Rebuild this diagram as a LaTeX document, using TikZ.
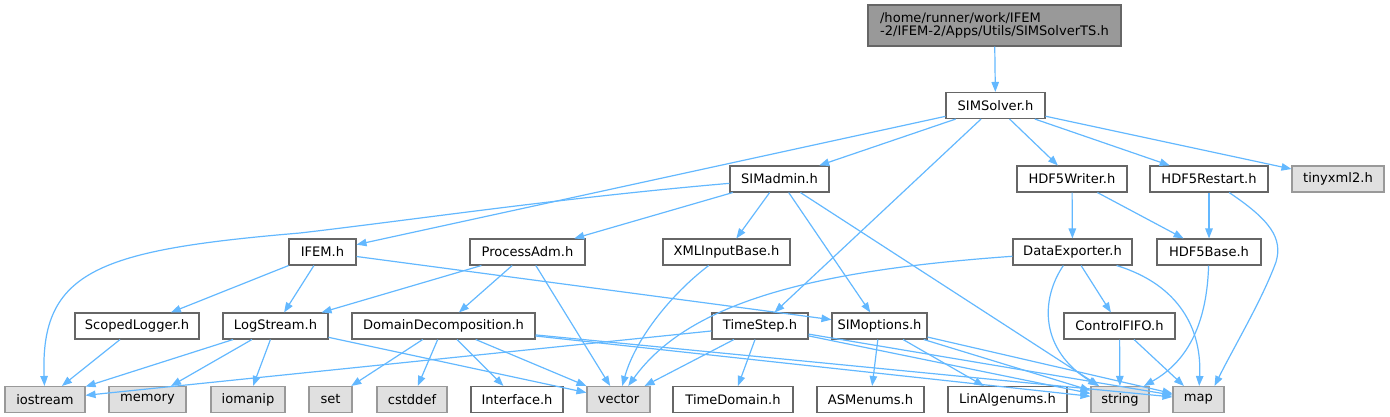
\documentclass[tikz,border=0pt]{standalone}
\usepackage{fontspec}
\setmainfont{DejaVu Sans}
\definecolor{edgeblue}{RGB}{99, 184, 255}
\definecolor{boxline}{RGB}{102, 102, 102}
\definecolor{extline}{RGB}{153, 153, 153}
\definecolor{extfill}{RGB}{224, 224, 224}
\definecolor{rootfill}{RGB}{153, 153, 153}
\usepackage{tikz}
\usetikzlibrary{arrows.meta, positioning, calc}

\begin{document}
\begin{tikzpicture}[
  x=0.75pt, y=-0.75pt,
  hdr/.style={draw=boxline, fill=white, line width=0.8pt, minimum width=#1*0.75pt, minimum height=19.5pt, inner sep=1pt, font=\fontsize{9.8pt}{11pt}\selectfont},
  ext/.style={hdr=#1, draw=extline, fill=extfill},
  rootbox/.style={draw=boxline, fill=rootfill, line width=0.8pt, minimum width=253*0.75pt, minimum height=41*0.75pt, inner sep=1pt, align=left, font=\fontsize{9.8pt}{9.8pt}\selectfont},
  dep/.style={draw=edgeblue, line width=0.9pt, -{Triangle[length=7.5pt, width=5.6pt]}},
]
  \useasboundingbox (0,0) rectangle (1390,417);

  % file being documented
  \node[rootbox] (root) at (994.5,25.5) {/home/runner/work/IFEM\\-2/IFEM-2/Apps/Utils/SIMSolverTS.h};

  \node[hdr=99] (solver) at (995.5,105.5) {SIMSolver.h};

  \node[hdr=99] (admin) at (779.5,179) {SIMadmin.h};
  \node[hdr=110] (writer) at (1072,179) {HDF5Writer.h};
  \node[hdr=118] (restart) at (1209,179) {HDF5Restart.h};
  \node[ext=92] (tinyxml) at (1338,179) {tinyxml2.h};

  \node[hdr=67] (ifem) at (322.5,252) {IFEM.h};
  \node[hdr=115] (procadm) at (527.5,252) {ProcessAdm.h};
  \node[hdr=127] (xmlbase) at (726.5,252) {XMLInputBase.h};
  \node[hdr=119] (exporter) at (1072.5,252) {DataExporter.h};
  \node[hdr=104] (h5base) at (1209,252) {HDF5Base.h};

  \node[hdr=124] (scoped) at (137,326) {ScopedLogger.h};
  \node[hdr=105] (logstr) at (275.5,326) {LogStream.h};
  \node[hdr=183] (domdec) at (443.5,326) {DomainDecomposition.h};
  \node[hdr=96] (tstep) at (760,326) {TimeStep.h};
  \node[hdr=95] (simopt) at (879.5,326) {SIMoptions.h};
  \node[hdr=111] (fifo) at (1119.5,326) {ControlFIFO.h};

  % system and leaf headers
  \node[ext=80] (iostream) at (45,399.5) {iostream};
  \node[ext=77] (memory) at (147.5,399.5) {memory};
  \node[ext=74] (iomanip) at (248,399.5) {iomanip};
  \node[ext=43] (stdset) at (330.5,399.5) {set};
  \node[ext=70] (cstddef) at (412,399.5) {cstddef};
  \node[hdr=92] (iface) at (517,399.5) {Interface.h};
  \node[ext=63] (stdvector) at (618.5,399.5) {vector};
  \node[hdr=120] (tdomain) at (733,399.5) {TimeDomain.h};
  \node[hdr=107] (asmenums) at (870.5,399.5) {ASMenums.h};
  \node[hdr=119] (linalg) at (1007.5,399.5) {LinAlgenums.h};
  \node[ext=58] (stdstring) at (1120,399.5) {string};
  \node[ext=51] (stdmap) at (1198.5,399.5) {map};

  % include edges
  \foreach \a/\b in {root/solver, solver/ifem, solver/admin, solver/tstep, solver/writer, solver/restart, solver/tinyxml,
    admin/procadm, admin/xmlbase, admin/simopt, admin/stdstring,
    ifem/scoped, ifem/logstr, ifem/simopt,
    procadm/logstr, procadm/domdec, procadm/stdvector,
    writer/exporter, writer/h5base, restart/h5base, exporter/fifo,
    fifo/stdstring, fifo/stdmap, scoped/iostream,
    logstr/iostream, logstr/memory, logstr/iomanip, logstr/stdvector,
    domdec/stdset, domdec/cstddef, domdec/iface, domdec/stdvector, domdec/stdstring, domdec/stdmap,
    tstep/iostream, tstep/stdvector, tstep/tdomain, tstep/stdstring, tstep/stdmap,
    simopt/asmenums, simopt/linalg, simopt/stdstring, simopt/stdmap}
    \draw[dep] (\a) -- (\b);

  \draw[dep] (admin) .. controls (560,198) and (420,219) .. (300,233)
    .. controls (100,250) and (40,270) .. (iostream);
  \draw[dep] (xmlbase) .. controls (670,295) and (635,340) .. (stdvector);
  \draw[dep] (exporter) .. controls (820,270) and (690,300) .. (stdvector);
  \draw[dep] (exporter) .. controls (1040,300) and (1040,350) .. (stdstring);
  \draw[dep] (exporter) .. controls (1180,285) and (1202,330) .. (stdmap);
  \draw[dep] (h5base) .. controls (1207,320) and (1190,360) .. (stdstring);
  \draw[dep] (restart) .. controls (1270,220) and (1283,238) .. (1276,262)
    .. controls (1262,300) and (1235,345) .. ($(stdmap.north)+(16,0)$);
\end{tikzpicture}
\end{document}
